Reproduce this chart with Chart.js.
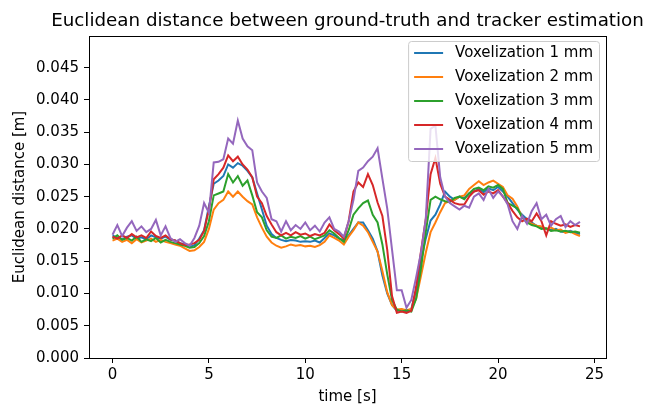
<!DOCTYPE html>
<html>
<head>
<meta charset="utf-8">
<script src="https://cdn.jsdelivr.net/npm/chart.js@4.4.1/dist/chart.umd.min.js"></script>
<style>
  html, body { margin: 0; padding: 0; background: #fff; }
  #wrap { width: 647px; height: 406px; }
</style>
</head>
<body>
<div id="wrap"><canvas id="chart" width="647" height="406"></canvas></div>
<script>
// ===== Data (time in s, distance in m) =====
const times = [
  0, 0.25, 0.5, 0.75, 1, 1.25, 1.5, 1.75, 2, 2.25, 2.5, 2.75, 3, 3.25, 3.5, 3.75,
  4, 4.25, 4.5, 4.75, 5, 5.25, 5.5, 5.75, 6, 6.25, 6.5, 6.75, 7, 7.25, 7.5, 7.75,
  8, 8.25, 8.5, 8.75, 9, 9.25, 9.5, 9.75, 10, 10.25, 10.5, 10.75, 11, 11.25, 11.5, 11.75,
  12, 12.25, 12.5, 12.75, 13, 13.25, 13.5, 13.75, 14, 14.25, 14.5, 14.75, 15, 15.25, 15.5, 15.75,
  16, 16.25, 16.5, 16.75, 17, 17.25, 17.5, 17.75, 18, 18.25, 18.5, 18.75, 19, 19.25, 19.5, 19.75,
  20, 20.25, 20.5, 20.75, 21, 21.25, 21.5, 21.75, 22, 22.25, 22.5, 22.75, 23, 23.25, 23.5, 23.75,
  24, 24.25
];

const vox1 = [
  0.0190, 0.0186, 0.0184, 0.0188, 0.0190, 0.0185, 0.0187, 0.0184, 0.0190, 0.0187, 0.0185, 0.0188, 0.0183, 0.0182, 0.0178, 0.0176,
  0.0172, 0.0175, 0.0185, 0.0198, 0.0235, 0.0270, 0.0275, 0.0282, 0.0300, 0.0295, 0.0302, 0.0298, 0.0290, 0.0280, 0.0255, 0.0230,
  0.0205, 0.0192, 0.0186, 0.0183, 0.0181, 0.0183, 0.0182, 0.0180, 0.0181, 0.0180, 0.0182, 0.0179, 0.0186, 0.0193, 0.0190, 0.0185,
  0.0183, 0.0190, 0.0200, 0.0210, 0.0210, 0.0198, 0.0185, 0.0165, 0.0128, 0.0100, 0.0082, 0.0073, 0.0075, 0.0072, 0.0076, 0.0105,
  0.0150, 0.0185, 0.0213, 0.0222, 0.0238, 0.0258, 0.0250, 0.0245, 0.0250, 0.0248, 0.0255, 0.0258, 0.0262, 0.0257, 0.0263, 0.0260,
  0.0265, 0.0258, 0.0250, 0.0240, 0.0230, 0.0222, 0.0215, 0.0210, 0.0205, 0.0203, 0.0200, 0.0198, 0.0200, 0.0196, 0.0195, 0.0197,
  0.0194, 0.0192
];

const vox2 = [
  0.0182, 0.0185, 0.0180, 0.0183, 0.0178, 0.0184, 0.0179, 0.0182, 0.0185, 0.0180, 0.0183, 0.0180, 0.0178, 0.0176, 0.0174, 0.0170,
  0.0166, 0.0167, 0.0172, 0.0180, 0.0200, 0.0230, 0.0240, 0.0245, 0.0258, 0.0250, 0.0258, 0.0250, 0.0243, 0.0238, 0.0218, 0.0202,
  0.0188, 0.0179, 0.0174, 0.0171, 0.0173, 0.0176, 0.0174, 0.0175, 0.0173, 0.0174, 0.0172, 0.0175, 0.0180, 0.0190, 0.0186, 0.0182,
  0.0176, 0.0188, 0.0198, 0.0210, 0.0205, 0.0195, 0.0180, 0.0165, 0.0135, 0.0102, 0.0082, 0.0075, 0.0076, 0.0074, 0.0076, 0.0092,
  0.0127, 0.0163, 0.0195, 0.0210, 0.0226, 0.0240, 0.0243, 0.0245, 0.0250, 0.0252, 0.0262, 0.0268, 0.0274, 0.0268, 0.0272, 0.0275,
  0.0270, 0.0265, 0.0252, 0.0247, 0.0235, 0.0218, 0.0212, 0.0208, 0.0205, 0.0204, 0.0200, 0.0202, 0.0198, 0.0199, 0.0194, 0.0196,
  0.0192, 0.0189
];

const vox3 = [
  0.0185, 0.0190, 0.0183, 0.0186, 0.0182, 0.0188, 0.0180, 0.0184, 0.0181, 0.0186, 0.0179, 0.0183, 0.0180, 0.0178, 0.0176, 0.0174,
  0.0171, 0.0172, 0.0178, 0.0189, 0.0212, 0.0252, 0.0255, 0.0258, 0.0285, 0.0272, 0.0282, 0.0267, 0.0275, 0.0252, 0.0226, 0.0218,
  0.0198, 0.0188, 0.0186, 0.0190, 0.0185, 0.0188, 0.0186, 0.0189, 0.0185, 0.0188, 0.0184, 0.0187, 0.0190, 0.0198, 0.0193, 0.0186,
  0.0180, 0.0198, 0.0222, 0.0232, 0.0240, 0.0244, 0.0222, 0.0210, 0.0176, 0.0130, 0.0090, 0.0075, 0.0072, 0.0074, 0.0072, 0.0092,
  0.0138, 0.0195, 0.0245, 0.0250, 0.0246, 0.0243, 0.0242, 0.0248, 0.0250, 0.0246, 0.0255, 0.0262, 0.0264, 0.0260, 0.0266, 0.0264,
  0.0268, 0.0262, 0.0240, 0.0236, 0.0232, 0.0218, 0.0210, 0.0206, 0.0204, 0.0200, 0.0201, 0.0197, 0.0198, 0.0196, 0.0197, 0.0195,
  0.0196, 0.0194
];

const vox4 = [
  0.0188, 0.0185, 0.0190, 0.0186, 0.0192, 0.0187, 0.0190, 0.0186, 0.0196, 0.0189, 0.0186, 0.0190, 0.0184, 0.0182, 0.0178, 0.0175,
  0.0176, 0.0178, 0.0183, 0.0197, 0.0230, 0.0277, 0.0285, 0.0295, 0.0314, 0.0305, 0.0312, 0.0300, 0.0292, 0.0280, 0.0250, 0.0240,
  0.0220, 0.0207, 0.0195, 0.0190, 0.0194, 0.0190, 0.0195, 0.0191, 0.0193, 0.0189, 0.0192, 0.0190, 0.0194, 0.0207, 0.0198, 0.0192,
  0.0185, 0.0212, 0.0258, 0.0272, 0.0265, 0.0285, 0.0268, 0.0241, 0.0220, 0.0168, 0.0096, 0.0070, 0.0072, 0.0070, 0.0073, 0.0110,
  0.0165, 0.0215, 0.0285, 0.0310, 0.0270, 0.0250, 0.0245, 0.0240, 0.0238, 0.0238, 0.0250, 0.0258, 0.0260, 0.0253, 0.0258, 0.0255,
  0.0260, 0.0250, 0.0240, 0.0228, 0.0218, 0.0212, 0.0216, 0.0212, 0.0224, 0.0212, 0.0190, 0.0212, 0.0208, 0.0205, 0.0207, 0.0203,
  0.0206, 0.0204
];

const vox5 = [
  0.0191, 0.0206, 0.0189, 0.0202, 0.0212, 0.0197, 0.0204, 0.0195, 0.0200, 0.0214, 0.0190, 0.0204, 0.0186, 0.0180, 0.0184, 0.0178,
  0.0174, 0.0186, 0.0205, 0.0240, 0.0225, 0.0303, 0.0304, 0.0308, 0.0340, 0.0332, 0.0368, 0.0340, 0.0328, 0.0322, 0.0272, 0.0258,
  0.0248, 0.0215, 0.0212, 0.0196, 0.0212, 0.0198, 0.0206, 0.0200, 0.0210, 0.0198, 0.0205, 0.0196, 0.0210, 0.0218, 0.0200, 0.0196,
  0.0188, 0.0212, 0.0245, 0.0290, 0.0295, 0.0305, 0.0312, 0.0325, 0.0278, 0.0232, 0.0168, 0.0105, 0.0105, 0.0078, 0.0090, 0.0125,
  0.0163, 0.0215, 0.0355, 0.0360, 0.0280, 0.0250, 0.0240, 0.0235, 0.0230, 0.0236, 0.0233, 0.0250, 0.0255, 0.0245, 0.0262, 0.0248,
  0.0258, 0.0251, 0.0238, 0.0212, 0.0200, 0.0220, 0.0208, 0.0228, 0.0240, 0.0215, 0.0222, 0.0205, 0.0215, 0.0220, 0.0203, 0.0212,
  0.0206, 0.0211
];

const seriesLabels = ["Voxelization 1 mm", "Voxelization 2 mm", "Voxelization 3 mm", "Voxelization 4 mm", "Voxelization 5 mm"];
const seriesValues = [vox1, vox2, vox3, vox4, vox5];
const colors = ["#1f77b4", "#ff7f0e", "#2ca02c", "#d62728", "#9467bd"];
const yTicks = [0, 0.005, 0.01, 0.015, 0.02, 0.025, 0.03, 0.035, 0.04, 0.045];

const FONT = "DejaVu Sans";
const FS = 15;

// ===== Frame, title and legend drawn like matplotlib =====
const mplExtras = {
  id: "mplExtras",
  afterDraw(chart) {
    const { ctx, chartArea: a } = chart;
    ctx.save();
    // spines
    ctx.strokeStyle = "#000";
    ctx.lineWidth = 1;
    ctx.strokeRect(Math.round(a.left) + 0.5, Math.round(a.top) + 0.5,
      Math.round(a.right - a.left), Math.round(a.bottom - a.top));

    // title
    ctx.fillStyle = "#000";
    ctx.font = `18.3px '${FONT}'`;
    ctx.textAlign = "center";
    ctx.textBaseline = "middle";
    ctx.fillText("Euclidean distance between ground-truth and tracker estimation", (a.left + a.right) / 2, 21);

    // legend
    ctx.font = `${FS}px '${FONT}'`;
    const ds = chart.data.datasets;
    const textW = Math.max(...ds.map(d => ctx.measureText(d.label).width));
    const pad = 6, handle = 29, hpad = 12, row = 24;
    const boxW = pad * 2 + handle + hpad + textW;
    const boxH = row * ds.length;
    const bx = a.right - 7 - boxW, by = a.top + 5;
    ctx.beginPath();
    ctx.roundRect(bx + 0.5, by + 0.5, boxW, boxH, 3);
    ctx.fillStyle = "rgba(255,255,255,0.8)";
    ctx.fill();
    ctx.strokeStyle = "#cccccc";
    ctx.lineWidth = 1;
    ctx.stroke();
    ctx.textAlign = "left";
    ds.forEach((d, i) => {
      const cy = by + 12 + i * row;
      ctx.strokeStyle = d.borderColor;
      ctx.lineWidth = 2;
      ctx.beginPath();
      ctx.moveTo(bx + pad, cy);
      ctx.lineTo(bx + pad + handle, cy);
      ctx.stroke();
      ctx.fillStyle = "#000";
      ctx.fillText(d.label, bx + pad + handle + hpad, cy);
    });
    ctx.restore();
  }
};

const datasets = seriesLabels.map((label, i) => ({
  label: label,
  data: times.map((t, k) => ({ x: t, y: seriesValues[i][k] })),
  borderColor: colors[i],
  backgroundColor: colors[i],
  borderWidth: 2,
  pointRadius: 0,
  tension: 0,
  order: seriesLabels.length - i
}));

new Chart(document.getElementById("chart"), {
  type: "line",
  data: { datasets },
  options: {
    responsive: false,
    animation: false,
    layout: { padding: { left: 0, right: 41, top: 36, bottom: 0 } },
    plugins: {
      legend: { display: false },
      title: { display: false },
      tooltip: { enabled: false }
    },
    scales: {
      x: {
        type: "linear",
        min: -1.22,
        max: 25.6,
        afterFit: s => { s.height = 48; },
        border: { display: false },
        grid: { drawOnChartArea: false, tickLength: 5, tickColor: "#000", tickWidth: 1 },
        ticks: {
          stepSize: 5,
          includeBounds: false,
          padding: 3,
          color: "#000",
          font: { family: FONT, size: FS },
          maxRotation: 0
        },
        title: {
          display: true,
          text: "time [s]",
          color: "#000",
          font: { family: FONT, size: FS },
          padding: { top: 0, bottom: 0 }
        }
      },
      y: {
        type: "linear",
        min: 0,
        max: 0.0499,
        afterFit: s => { s.width = 89; },
        afterBuildTicks: s => { s.ticks = yTicks.map(v => ({ value: v })); },
        border: { display: false },
        grid: { drawOnChartArea: false, tickLength: 5, tickColor: "#000", tickWidth: 1 },
        ticks: {
          padding: 5,
          color: "#000",
          font: { family: FONT, size: FS },
          callback: v => v.toFixed(3)
        },
        title: {
          display: true,
          text: "Euclidean distance [m]",
          color: "#000",
          font: { family: FONT, size: FS },
          padding: { top: 11, bottom: 0 }
        }
      }
    }
  },
  plugins: [mplExtras]
});
</script>
</body>
</html>
